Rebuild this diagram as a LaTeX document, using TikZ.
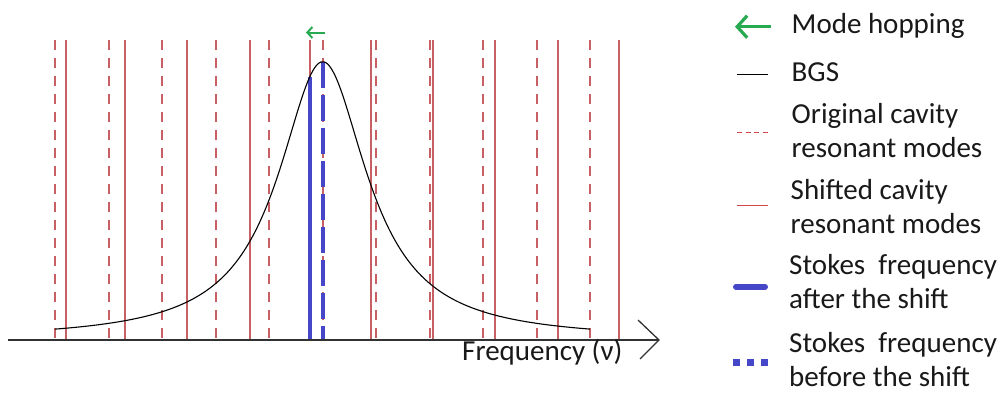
\documentclass[tikz,border=0pt]{standalone}
\usepackage{fontspec}
\setmainfont{Carlito}
\usetikzlibrary{arrows.meta}
\definecolor{modered}{RGB}{198,96,100}
\definecolor{legred}{RGB}{210,70,75}
\definecolor{stokesblue}{RGB}{70,70,200}
\definecolor{hopgreen}{RGB}{40,170,80}
\definecolor{axisgray}{RGB}{50,50,50}
\definecolor{txt}{RGB}{25,25,25}
\begin{document}
\begin{tikzpicture}[x=1pt,y=-1pt,
  origmode/.style={modered, line width=1.5pt, dash pattern=on 10pt off 8pt},
  shiftmode/.style={modered, line width=1.5pt},
  bgsline/.style={black, line width=1.1pt},
  afterline/.style={stokesblue, line width=3.6pt},
  beforeline/.style={stokesblue, line width=3.6pt, dash pattern=on 26pt off 7pt},
  hoparrow/.style={hopgreen, line width=2pt, -{Straight Barb[length=5pt,width=11pt]}},
  legtext/.style={anchor=base west, inner sep=0pt, align=left, text=txt,
    font=\fontsize{29}{34}\selectfont},
  axisline/.style={axisgray, line width=1.3pt}
]
\useasboundingbox (0,0) rectangle (1001,394);

% original cavity modes (dashed)
\foreach \xx in {55,109,162,216,269,323,376,430,483,537,590}
  \draw[origmode] (\xx,40) -- (\xx,340);
% shifted cavity modes (solid)
\foreach \xx in {66,125,187,250,310,371,433,495,558,619}
  \draw[shiftmode] (\xx,40) -- (\xx,340);

% Stokes frequencies
\draw[afterline] (310,77) -- (310,340);
\draw[beforeline] (322.7,62) -- (322.7,340);

% BGS curve
\draw[bgsline, smooth, samples=160, domain=55:590]
  plot (\x, {340-278.3/(1+((\x-322.7)/54)^2)});

% axis
\coordinate (axstart) at (8,340);
\coordinate (axtip) at (659,340);
\coordinate (axup) at (638,320);
\coordinate (axdown) at (640,359);
\draw[axisline] (axstart) -- (axtip);
\draw[axisline] (axup) -- (axtip) -- (axdown);
\node[legtext] (axlabel) at (462,360) {Frequency (ν)};

% mode hopping arrow
\coordinate (hopfrom) at (325,32.5);
\coordinate (hopto) at (306,32.5);
\draw[hoparrow] (hopfrom) -- (hopto);

% legend
\coordinate (l1a) at (771,26.7); \coordinate (l1b) at (735,26.7);
\draw[hopgreen, line width=3.2pt, -{Straight Barb[length=10pt,width=22pt]}] (l1a) -- (l1b);
\node[legtext] (t1) at (791.5,33) {Mode hopping};

\coordinate (l2a) at (737,74); \coordinate (l2b) at (768,74);
\draw[black, line width=1pt] (l2a) -- (l2b);
\node[legtext] (t2) at (791.5,81.7) {BGS};

\coordinate (l3a) at (737,132.7); \coordinate (l3b) at (768,132.7);
\draw[legred, line width=1pt, dash pattern=on 5pt off 3.7pt] (l3a) -- (l3b);
\node[legtext] (t3) at (791.5,157) {Original cavity\\resonant modes};

\coordinate (l4a) at (737,205); \coordinate (l4b) at (768,205);
\draw[legred, line width=1pt] (l4a) -- (l4b);
\node[legtext] (t4) at (790.5,233.3) {Shifted cavity\\resonant modes};

\coordinate (l5a) at (736,286.7); \coordinate (l5b) at (765,286.7);
\draw[stokesblue, line width=6pt, line cap=round] (l5a) -- (l5b);
\node[legtext] (t5) at (789,308.3) {Stokes\ \ frequency\\after the shift};

\coordinate (l6a) at (733,362.7); \coordinate (l6b) at (768,362.7);
\draw[stokesblue, line width=7pt, dash pattern=on 7pt off 7pt] (l6a) -- (l6b);
\node[legtext] (t6) at (789,386.7) {Stokes\ \ frequency\\before the shift};
\end{tikzpicture}
\end{document}
